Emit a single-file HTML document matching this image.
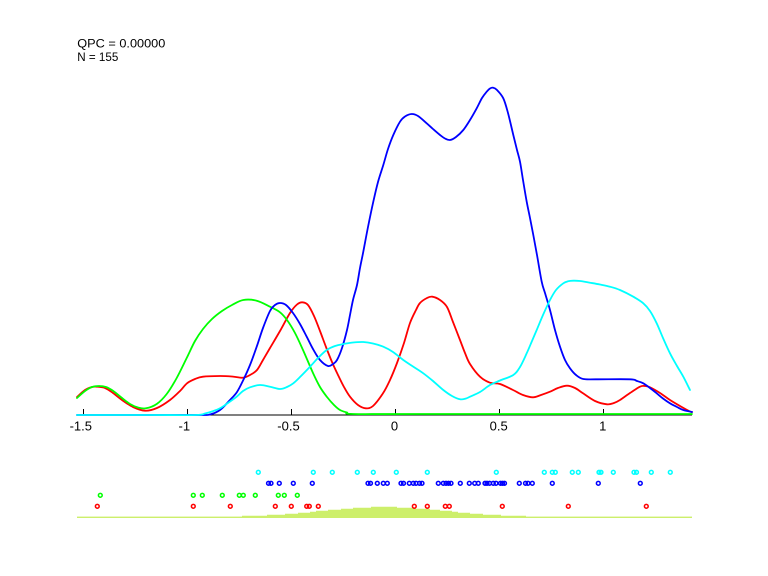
<!DOCTYPE html>
<html>
<head>
<meta charset="utf-8">
<style>
html,body{margin:0;padding:0;background:#fff;}
svg{display:block;}
text{font-family:"Liberation Sans",Arial,sans-serif;fill:#000;}
</style>
</head>
<body>
<svg id="chart" width="768" height="576" viewBox="0 0 768 576" xmlns="http://www.w3.org/2000/svg">
<rect width="768" height="576" fill="#fff"/>

<!-- top text -->
<text x="77.3" y="47.7" font-size="12" textLength="88" lengthAdjust="spacingAndGlyphs">QPC = 0.00000</text>
<text x="77.3" y="61" font-size="12" textLength="41" lengthAdjust="spacingAndGlyphs">N = 155</text>

<!-- axis -->
<line x1="77" y1="415" x2="692" y2="415" stroke="#000" stroke-width="1"/>
<g stroke="#000" stroke-width="1">
<line x1="83.5" y1="409" x2="83.5" y2="415"/>
<line x1="187.5" y1="409" x2="187.5" y2="415"/>
<line x1="291.5" y1="409" x2="291.5" y2="415"/>
<line x1="395.5" y1="409" x2="395.5" y2="415"/>
<line x1="499.5" y1="409" x2="499.5" y2="415"/>
<line x1="603.5" y1="409" x2="603.5" y2="415"/>
</g>
<g font-size="13" text-anchor="middle">
<text x="80.8" y="430.5">-1.5</text>
<text x="184.3" y="430.5">-1</text>
<text x="288.5" y="430.5">-0.5</text>
<text x="394.5" y="430.5">0</text>
<text x="498.7" y="430.5">0.5</text>
<text x="602.7" y="430.5">1</text>
</g>

<g id="curves" fill="none" stroke-width="1.8" stroke-linejoin="round" stroke-linecap="round">
<!-- red -->
<polyline stroke="#ff0000" points="77,397 85,390 92,387 97,386.7 105,388 113,393 122,400 133,407 145,410.7 157,408 170,400 180,391 187,383.3 195,379 203,376.7 220,376 232,376.5 243,377.7 250,375 257,370 263,360 270,348 280,331 290,313 297,304.5 302.3,302.3 308,305 314,316 320,331 326,347 332,362 338,375 344,387 350,396.7 358,405 365.7,408.3 373,406 383,393.3 390,380 397,363 404,343 410,323 416,310 420,303 427,298 432.3,296.7 440,300 447,307 453,322 460,340 465,353 470,364 480,376.7 490,382.7 500,384 513,390 523,395 533,397.3 541,395 550,391.7 558,388 567,385.7 575,388 583,393.3 595,401 607,404.3 614,403 620,400 630,393 640,386.7 645,386 650,387.3 660,393 670,400 680,406 690,411.5 692,412"/>
<!-- green -->
<polyline stroke="#00ff00" points="77,398 85,391 92,387 99,386 106,387 113.3,391 122,398 130,404 138,407.5 146,408.3 156.7,404 166.7,394 176.7,378 186.7,358 195,341 203,329 212,319 222,311 232,305 243.3,300 256.7,300.7 270,306.7 280,312.3 287,320 295,333 303,350 313,373 320,387 327,397 334,405 340,410 347,412.5 353,414 420,414 692,414"/>
<!-- blue -->
<polyline stroke="#0000ff" points="77,415 150,415 200,415 210,414.5 220,410 230,400 237,392 243.3,380 250,365 256.7,346.7 263,328 270,311 275,305 280,303 286,305 293,313 300,324 306.7,336.7 313,349 320,360 328,366 333,364 337,360 342,348 347,330 350,315 353,300 357,285 360,268 363.3,251.7 368,227 373.3,201.7 378,182 383.3,165 388,149 393.3,135 400,121.7 405,116.5 411.7,114 418,116 426.7,123.3 433,129 440,135 445,138.5 450,140 456,137 463.3,130 470,120 476.7,108.3 482,98 486.7,91.7 490,88.5 493.3,87.7 497,90 503.3,98.3 508,113 513.3,135 517,150 520,161.7 523,180 526.7,201.7 530,218 533.3,235 537,255 541.7,281.7 545,293 550,310 555,330 560,346.7 565,360 570,368.3 576,375 583.3,379 596.7,379.3 630,379.3 637,381 643.3,383.3 650,388 656.7,393.3 663,398.5 670,403.3 677,407 683.3,410 692,412"/>
<!-- cyan -->
<polyline stroke="#00ffff" points="77,415 150,415 196,415 205,413.5 212,411.5 220,408.3 228,403 236.7,396.7 243,391 250,387.3 260,385 270,386.7 280,389 287,387 293.3,383.3 300,377 310,366.7 318,358 326.7,350 335,346 343.3,344 353,342.5 363.3,342 373,343.5 383.3,346.7 393,352 403.3,360 413,366.5 423.3,373.3 433,381 443.3,390 452,396 460,399.3 466,398.5 470,396.7 480,392 490,385 500,380.5 513.3,375 520,367 526.7,353.3 532,341 536.7,330 543,315 550,300 556,290 563.3,283.3 568,281.3 573.3,280.7 580,281 590,282.7 600,284.5 610,286.7 620,290 633.3,296.7 643.3,303.3 650,311 656.7,323.3 663,338 670,353.3 677,366 683.3,376.7 690,390"/>
</g>

<!-- shaded area -->
<rect x="77" y="516.6" width="615" height="1.4" fill="#cdef6b"/>
<path fill="#cdef6b" d="M242,518 V515.7 H267 V514.7 H285 V513.7 H298 V512.7 H310 V511.7 H316 V510.7 H328 V509.7 H341 V508.7 H353 V507.7 H371 V506.7 H397 V507.7 H416 V508.7 H430 V509.7 H440 V510.7 H452 V511.7 H458 V512.7 H470 V513.7 H483 V514.7 H501 V515.7 H526 V518 Z"/>

<!-- dots -->
<g fill="none" stroke-width="1.5">
<g stroke="#00ffff">
<circle cx="258.3" cy="472.3" r="1.9"/><circle cx="313.3" cy="472.3" r="1.9"/><circle cx="332.3" cy="472.3" r="1.9"/><circle cx="357.3" cy="472.3" r="1.9"/><circle cx="373.3" cy="472.3" r="1.9"/><circle cx="396.3" cy="472.3" r="1.9"/><circle cx="427.3" cy="472.3" r="1.9"/><circle cx="496.3" cy="472.3" r="1.9"/><circle cx="544.3" cy="472.3" r="1.9"/><circle cx="552.3" cy="472.3" r="1.9"/><circle cx="555.3" cy="472.3" r="1.9"/><circle cx="572.3" cy="472.3" r="1.9"/><circle cx="578.3" cy="472.3" r="1.9"/><circle cx="599" cy="472.3" r="1.9"/><circle cx="601" cy="472.3" r="1.9"/><circle cx="613.3" cy="472.3" r="1.9"/><circle cx="634" cy="472.3" r="1.9"/><circle cx="636.5" cy="472.3" r="1.9"/><circle cx="651.3" cy="472.3" r="1.9"/><circle cx="670.3" cy="472.3" r="1.9"/>
</g>
<g stroke="#0000ff">
<circle cx="268.5" cy="483.3" r="1.9"/><circle cx="271" cy="483.3" r="1.9"/><circle cx="279.3" cy="483.3" r="1.9"/><circle cx="293.3" cy="483.3" r="1.9"/><circle cx="312.3" cy="483.3" r="1.9"/><circle cx="368" cy="483.3" r="1.9"/><circle cx="370.5" cy="483.3" r="1.9"/><circle cx="377.3" cy="483.3" r="1.9"/><circle cx="383.3" cy="483.3" r="1.9"/><circle cx="387.3" cy="483.3" r="1.9"/><circle cx="401" cy="483.3" r="1.9"/><circle cx="403.5" cy="483.3" r="1.9"/><circle cx="409.3" cy="483.3" r="1.9"/><circle cx="413.3" cy="483.3" r="1.9"/><circle cx="416" cy="483.3" r="1.9"/><circle cx="419.5" cy="483.3" r="1.9"/><circle cx="422" cy="483.3" r="1.9"/><circle cx="438.3" cy="483.3" r="1.9"/><circle cx="443.3" cy="483.3" r="1.9"/><circle cx="446" cy="483.3" r="1.9"/><circle cx="448.5" cy="483.3" r="1.9"/><circle cx="451" cy="483.3" r="1.9"/><circle cx="460.3" cy="483.3" r="1.9"/><circle cx="469.3" cy="483.3" r="1.9"/><circle cx="474.7" cy="483.3" r="1.9"/><circle cx="478.3" cy="483.3" r="1.9"/><circle cx="485" cy="483.3" r="1.9"/><circle cx="487" cy="483.3" r="1.9"/><circle cx="489.5" cy="483.3" r="1.9"/><circle cx="493.3" cy="483.3" r="1.9"/><circle cx="496" cy="483.3" r="1.9"/><circle cx="500.5" cy="483.3" r="1.9"/><circle cx="502.5" cy="483.3" r="1.9"/><circle cx="504.5" cy="483.3" r="1.9"/><circle cx="519.3" cy="483.3" r="1.9"/><circle cx="525.5" cy="483.3" r="1.9"/><circle cx="528" cy="483.3" r="1.9"/><circle cx="532.3" cy="483.3" r="1.9"/><circle cx="552.3" cy="483.3" r="1.9"/><circle cx="598.3" cy="483.3" r="1.9"/><circle cx="640.3" cy="483.3" r="1.9"/>
</g>
<g stroke="#00ff00">
<circle cx="100.3" cy="495.3" r="1.9"/><circle cx="193.3" cy="495.3" r="1.9"/><circle cx="202.3" cy="495.3" r="1.9"/><circle cx="222.3" cy="495.3" r="1.9"/><circle cx="239.3" cy="495.3" r="1.9"/><circle cx="243.3" cy="495.3" r="1.9"/><circle cx="255.3" cy="495.3" r="1.9"/><circle cx="278.3" cy="495.3" r="1.9"/><circle cx="284.3" cy="495.3" r="1.9"/><circle cx="297.3" cy="495.3" r="1.9"/>
</g>
<g stroke="#ff0000">
<circle cx="97.3" cy="506.3" r="1.9"/><circle cx="193.3" cy="506.3" r="1.9"/><circle cx="230.3" cy="506.3" r="1.9"/><circle cx="275.3" cy="506.3" r="1.9"/><circle cx="291.3" cy="506.3" r="1.9"/><circle cx="306.7" cy="506.3" r="1.9"/><circle cx="309.3" cy="506.3" r="1.9"/><circle cx="318.3" cy="506.3" r="1.9"/><circle cx="414.3" cy="506.3" r="1.9"/><circle cx="427.3" cy="506.3" r="1.9"/><circle cx="445.3" cy="506.3" r="1.9"/><circle cx="449.3" cy="506.3" r="1.9"/><circle cx="502.3" cy="506.3" r="1.9"/><circle cx="568.3" cy="506.3" r="1.9"/><circle cx="646.3" cy="506.3" r="1.9"/>
</g>
</g>
</svg>
<script>
(function(){
  var NS="http://www.w3.org/2000/svg";
  var g=document.getElementById("curves");
  if(!g) return;
  var pls=g.querySelectorAll("polyline");
  for(var k=0;k<pls.length;k++){
    var pl=pls[k];
    var raw=pl.getAttribute("points").trim().split(/\s+/);
    var p=[];
    for(var i=0;i<raw.length;i++){var a=raw[i].split(",");p.push([parseFloat(a[0]),parseFloat(a[1])]);}
    var d="M"+p[0][0]+","+p[0][1];
    for(var i=0;i<p.length-1;i++){
      var p0=p[i-1]||p[i],p1=p[i],p2=p[i+1],p3=p[i+2]||p[i+1];
      var c1x=p1[0]+(p2[0]-p0[0])/6,c1y=p1[1]+(p2[1]-p0[1])/6;
      var c2x=p2[0]-(p3[0]-p1[0])/6,c2y=p2[1]-(p3[1]-p1[1])/6;
      d+=" C"+c1x.toFixed(2)+","+c1y.toFixed(2)+" "+c2x.toFixed(2)+","+c2y.toFixed(2)+" "+p2[0]+","+p2[1];
    }
    var path=document.createElementNS(NS,"path");
    path.setAttribute("d",d);
    path.setAttribute("stroke",pl.getAttribute("stroke"));
    g.insertBefore(path,pl);
    g.removeChild(pl);
  }
})();
</script>
</body>
</html>
